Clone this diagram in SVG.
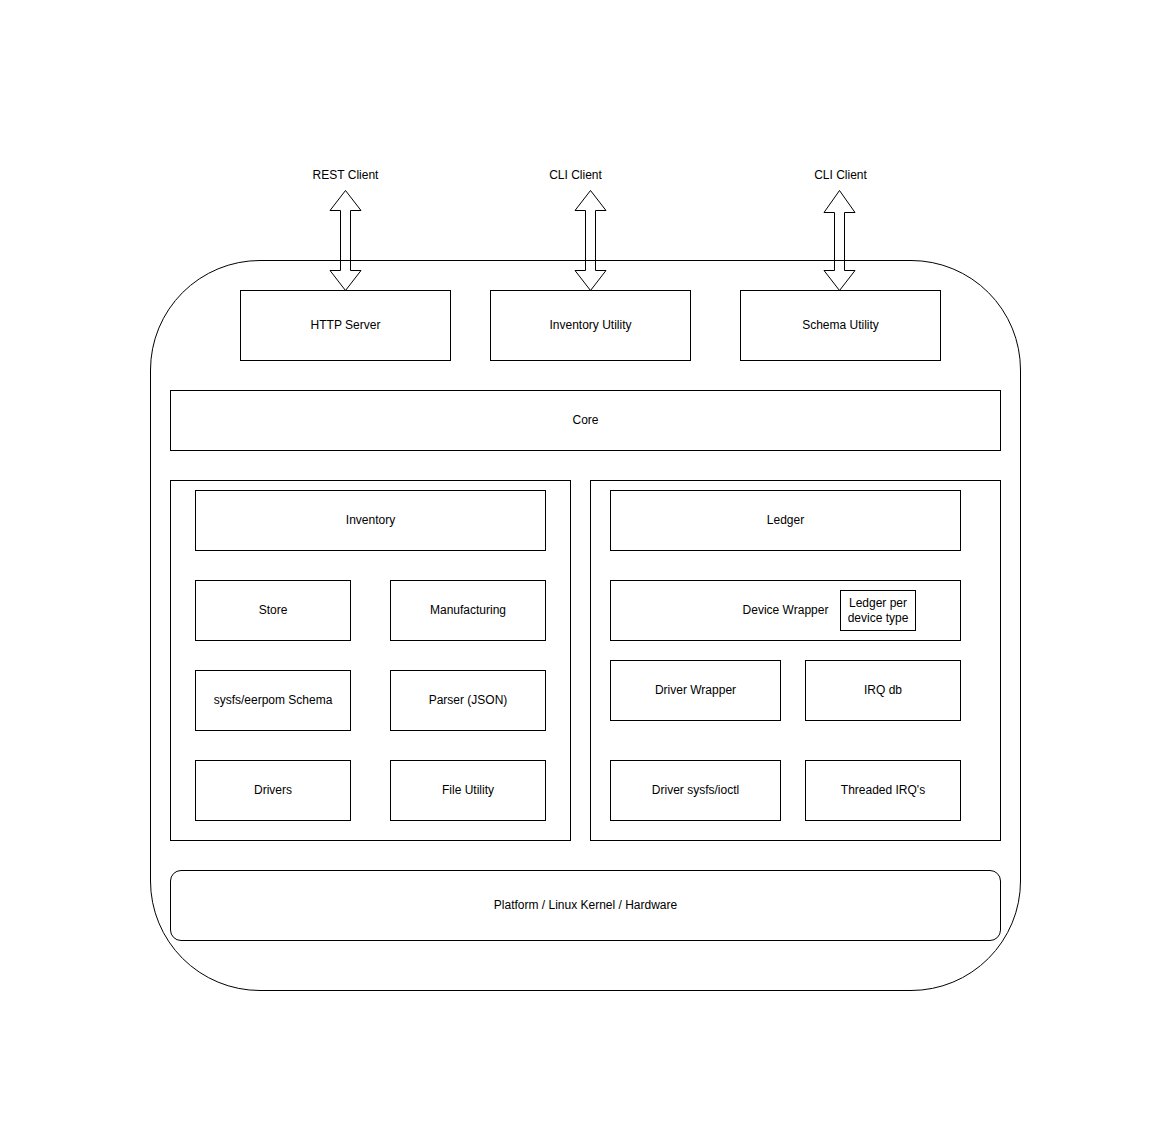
<svg xmlns="http://www.w3.org/2000/svg" width="1171" height="1141" viewBox="0 0 1171 1141">
<style>
.b{fill:#fff;stroke:#000;stroke-width:1}
.c{fill:none;stroke:#000;stroke-width:1}
.a{fill:#fff;stroke:#000;stroke-width:1;stroke-linejoin:miter}
text{font-family:"Liberation Sans",Arial,sans-serif;font-size:12px;fill:#000;text-anchor:middle;dominant-baseline:central}
</style>
<rect width="1171" height="1141" fill="#fff"/>
<g id="system"><rect class="b" x="150.5" y="260.5" width="870" height="730" rx="109.5" ry="109.5"/></g>
<g id="connectors">
<path class="c" d="M345.5 190.5 L361 210.5 L350.5 210.5 L350.5 270.5 L361 270.5 L345.5 290.5 L330 270.5 L340.5 270.5 L340.5 210.5 L330 210.5 Z"/>
<path class="c" d="M590.5 190.5 L606 210.5 L595.5 210.5 L595.5 270.5 L606 270.5 L590.5 290.5 L575 270.5 L585.5 270.5 L585.5 210.5 L575 210.5 Z"/>
<path class="c" d="M839.5 190.5 L855 212.5 L844.5 212.5 L844.5 270.5 L855 270.5 L839.5 290.5 L824 270.5 L834.5 270.5 L834.5 212.5 L824 212.5 Z"/>
</g>
<g id="rest-client"><text x="345.5" y="175">REST Client</text></g>
<g id="cli-client-1"><text x="575.5" y="175">CLI Client</text></g>
<g id="cli-client-2"><text x="840.5" y="175">CLI Client</text></g>
<g id="http-server"><rect class="b" x="240.5" y="290.5" width="210" height="70"/><text x="345.5" y="325">HTTP Server</text></g>
<g id="inventory-utility"><rect class="b" x="490.5" y="290.5" width="200" height="70"/><text x="590.5" y="325">Inventory Utility</text></g>
<g id="schema-utility"><rect class="b" x="740.5" y="290.5" width="200" height="70"/><text x="840.5" y="325">Schema Utility</text></g>
<g id="core"><rect class="b" x="170.5" y="390.5" width="830" height="60"/><text x="585.5" y="420">Core</text></g>
<g id="left-container"><rect class="b" x="170.5" y="480.5" width="400" height="360"/></g>
<g id="inventory"><rect class="b" x="195.5" y="490.5" width="350" height="60"/><text x="370.5" y="520">Inventory</text></g>
<g id="store"><rect class="b" x="195.5" y="580.5" width="155" height="60"/><text x="273" y="610">Store</text></g>
<g id="manufacturing"><rect class="b" x="390.5" y="580.5" width="155" height="60"/><text x="468" y="610">Manufacturing</text></g>
<g id="schema"><rect class="b" x="195.5" y="670.5" width="155" height="60"/><text x="273" y="700">sysfs/eerpom Schema</text></g>
<g id="parser"><rect class="b" x="390.5" y="670.5" width="155" height="60"/><text x="468" y="700">Parser (JSON)</text></g>
<g id="drivers"><rect class="b" x="195.5" y="760.5" width="155" height="60"/><text x="273" y="790">Drivers</text></g>
<g id="file-utility"><rect class="b" x="390.5" y="760.5" width="155" height="60"/><text x="468" y="790">File Utility</text></g>
<g id="right-container"><rect class="b" x="590.5" y="480.5" width="410" height="360"/></g>
<g id="ledger"><rect class="b" x="610.5" y="490.5" width="350" height="60"/><text x="785.5" y="520">Ledger</text></g>
<g id="device-wrapper"><rect class="b" x="610.5" y="580.5" width="350" height="60"/><text x="785.5" y="610">Device Wrapper</text></g>
<g id="ledger-per-device"><rect class="b" x="840.5" y="590.5" width="75" height="40"/><text x="878" y="603">Ledger per</text><text x="878" y="618">device type</text></g>
<g id="driver-wrapper"><rect class="b" x="610.5" y="660.5" width="170" height="60"/><text x="695.5" y="690">Driver Wrapper</text></g>
<g id="irq-db"><rect class="b" x="805.5" y="660.5" width="155" height="60"/><text x="883" y="690">IRQ db</text></g>
<g id="driver-sysfs"><rect class="b" x="610.5" y="760.5" width="170" height="60"/><text x="695.5" y="790">Driver sysfs/ioctl</text></g>
<g id="threaded-irq"><rect class="b" x="805.5" y="760.5" width="155" height="60"/><text x="883" y="790">Threaded IRQ's</text></g>
<g id="platform"><rect class="b" x="170.5" y="870.5" width="830" height="70" rx="10.5" ry="10.5"/><text x="585.5" y="905">Platform / Linux Kernel / Hardware</text></g>
</svg>
